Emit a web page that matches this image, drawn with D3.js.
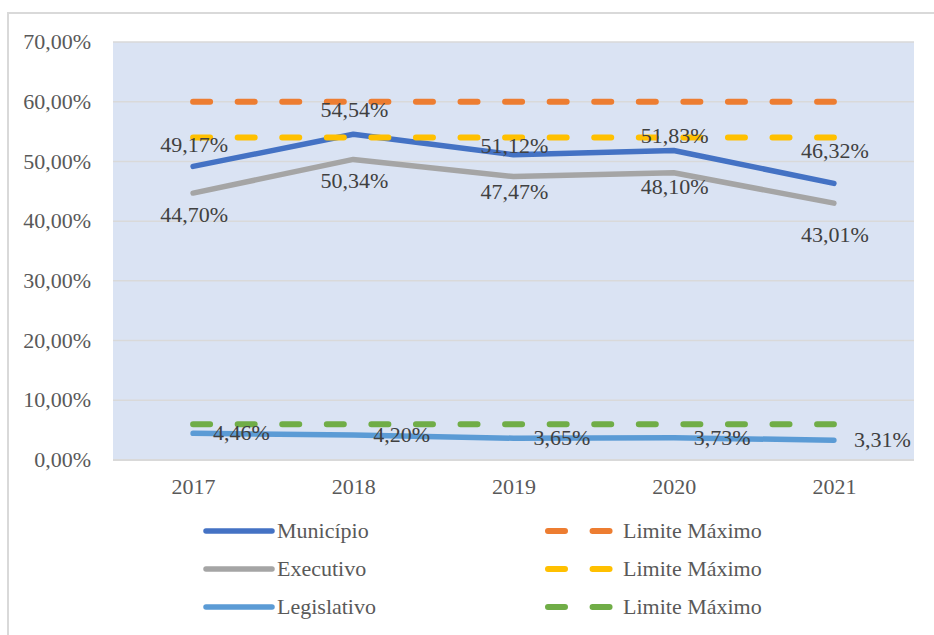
<!DOCTYPE html>
<html>
<head>
<meta charset="utf-8">
<script src="https://cdn.jsdelivr.net/npm/d3@7"></script>
<style>
    body { margin: 0; background: #fff; }
    text { font-family: "Liberation Serif", "DejaVu Serif", serif; }
</style>
</head>
<body>
<div id="chart"></div>
<script>
    var years = ["2017", "2018", "2019", "2020", "2021"];
    var municipio = [49.17, 54.54, 51.12, 51.83, 46.32];
    var executivo = [44.70, 50.34, 47.47, 48.10, 43.01];
    var legislativo = [4.46, 4.20, 3.65, 3.73, 3.31];
    var limiteMunicipio = [60, 60, 60, 60, 60];
    var limiteExecutivo = [54, 54, 54, 54, 54];
    var limiteLegislativo = [6, 6, 6, 6, 6];
    var yTicks = [0, 10, 20, 30, 40, 50, 60, 70];

    var width = 934;
    var height = 635;
    var fontSize = 22;
    var labelColor = "#404040";
    var axisColor = "#595959";
    var gridColor = "#D9D9D9";

    // label offsets (Excel had them nudged by hand)
    var munLabelDy = [-14.5, -17, -2, -7.5, -25];
    var exeLabelDy = [28.6, 28.6, 22.5, 21, 38.5];

    var series = [
        { name: "Município", values: municipio, color: "#4472C4", dashed: false },
        { name: "Executivo", values: executivo, color: "#A5A5A5", dashed: false },
        { name: "Legislativo", values: legislativo, color: "#5B9BD5", dashed: false },
        { name: "Limite Máximo", values: limiteMunicipio, color: "#ED7D31", dashed: true },
        { name: "Limite Máximo", values: limiteExecutivo, color: "#FFC000", dashed: true },
        { name: "Limite Máximo", values: limiteLegislativo, color: "#70AD47", dashed: true }
    ];

    var plot = { left: 113, right: 914, top: 42, bottom: 460 };

    var svg = d3.select("#chart").append("svg")
        .attr("width", width)
        .attr("height", height);

    svg.append("rect")
        .attr("x", 8)
        .attr("y", 13)
        .attr("width", 960)
        .attr("height", 660)
        .attr("fill", "#fff")
        .attr("stroke", gridColor)
        .attr("stroke-width", 2);

    var x = d3.scalePoint()
        .domain(years)
        .range([plot.left, plot.right])
        .padding(0.5);

    var y = d3.scaleLinear()
        .domain([0, 70])
        .range([plot.bottom, plot.top]);

    svg.append("rect")
        .attr("x", plot.left)
        .attr("y", plot.top)
        .attr("width", plot.right - plot.left)
        .attr("height", plot.bottom - plot.top)
        .attr("fill", "#DAE3F3");

    // gridlines
    svg.append("g")
        .selectAll("line")
        .data(yTicks)
        .enter().append("line")
        .attr("x1", plot.left)
        .attr("x2", plot.right)
        .attr("y1", function(d) { return y(d); })
        .attr("y2", function(d) { return y(d); })
        .attr("stroke", gridColor)
        .attr("stroke-width", function(d) { return d === 0 ? 2 : 1.5; });

    // y axis
    var yAxis = d3.axisLeft(y)
        .tickValues(yTicks)
        .tickSize(0)
        .tickPadding(22)
        .tickFormat(function(d) { return d3.format(".2f")(d).replace(".", ",") + "%"; });

    var gy = svg.append("g")
        .attr("transform", "translate(" + plot.left + ",0)")
        .call(yAxis);
    gy.select(".domain").remove();
    gy.selectAll("text")
        .attr("font-family", "Liberation Serif")
        .style("font-size", fontSize + "px")
        .attr("fill", axisColor)
        .attr("dy", "0.3em");

    // x axis
    var xAxis = d3.axisBottom(x).tickSize(0).tickPadding(18);
    var gx = svg.append("g")
        .attr("transform", "translate(0," + plot.bottom + ")")
        .call(xAxis);
    gx.select(".domain").remove();
    gx.selectAll("text")
        .attr("font-family", "Liberation Serif")
        .style("font-size", fontSize + "px")
        .attr("fill", axisColor)
        .attr("dy", "0.71em");

    var line = d3.line()
        .x(function(d, i) { return x(years[i]); })
        .y(function(d) { return y(d); });

    svg.append("g")
        .selectAll("path")
        .data(series)
        .enter().append("path")
        .attr("d", function(d) { return line(d.values); })
        .attr("fill", "none")
        .attr("stroke", function(d) { return d.color; })
        .attr("stroke-width", function(d) { return d.dashed ? 6 : 5.5; })
        .attr("stroke-linecap", "round")
        .attr("stroke-linejoin", "round")
        .attr("stroke-dasharray", function(d) { return d.dashed ? "17,27.57" : null; });

    function fmt(v) {
        return d3.format(".2f")(v).replace(".", ",") + "%";
    }

    var labels = svg.append("g")
        .style("font-size", fontSize + "px")
        .attr("fill", labelColor);

    labels.selectAll(".lab-mun")
        .data(municipio)
        .enter().append("text")
        .attr("text-anchor", "middle")
        .attr("x", function(d, i) { return x(years[i]) + 1; })
        .attr("y", function(d, i) { return y(d) + munLabelDy[i]; })
        .text(fmt);

    labels.selectAll(".lab-exe")
        .data(executivo)
        .enter().append("text")
        .attr("text-anchor", "middle")
        .attr("x", function(d, i) { return x(years[i]) + 1; })
        .attr("y", function(d, i) { return y(d) + exeLabelDy[i]; })
        .text(fmt);

    labels.selectAll(".lab-leg")
        .data(legislativo)
        .enter().append("text")
        .attr("text-anchor", "start")
        .attr("x", function(d, i) { return x(years[i]) + 20; })
        .attr("y", function(d) { return y(d) + 7; })
        .text(fmt);

    // legend: two columns, three rows
    var legendRows = [531, 569, 607];
    var legendCols = [206, 548];
    var legend = svg.append("g");
    var item = legend.selectAll("g")
        .data(series)
        .enter().append("g")
        .attr("transform", function(d, i) {
            var col = d.dashed ? 1 : 0;
            return "translate(" + legendCols[col] + "," + legendRows[i % 3] + ")";
        });

    item.append("line")
        .attr("x1", 0)
        .attr("x2", function(d) { return d.dashed ? 62 : 66; })
        .attr("stroke", function(d) { return d.color; })
        .attr("stroke-width", function(d) { return d.dashed ? 6 : 5.5; })
        .attr("stroke-linecap", "round")
        .attr("stroke-dasharray", function(d) { return d.dashed ? "17,27.57" : null; });

    item.append("text")
        .attr("x", function(d) { return d.dashed ? 75 : 71; })
        .attr("dy", "0.3em")
        .style("font-size", fontSize + "px")
        .attr("fill", axisColor)
        .text(function(d) { return d.name; });
</script>
</body>
</html>
